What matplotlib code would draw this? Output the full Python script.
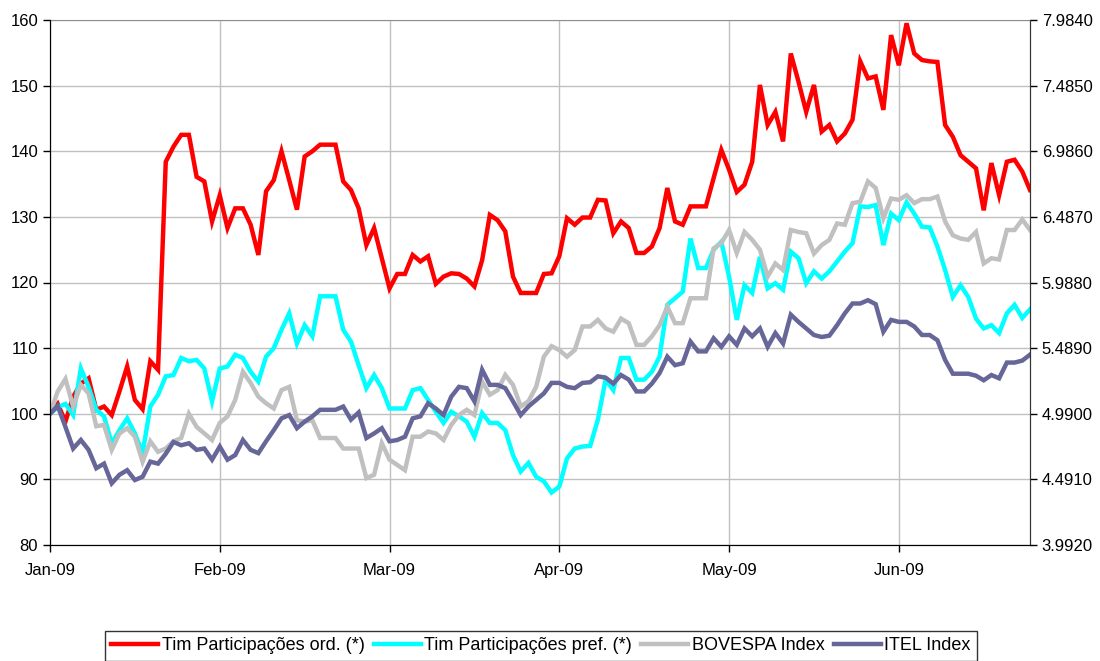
import numpy as np
import matplotlib
matplotlib.use("Agg")
import matplotlib.pyplot as plt

plt.rcParams['font.family'] = ['Liberation Sans', 'DejaVu Sans']

# month labels on the category axis (one tick every 22 trading days)
monthLabels = ['Jan-09', 'Feb-09', 'Mar-09', 'Apr-09', 'May-09', 'Jun-09']
rightLabels = ['3.9920', '4.4910', '4.9900', '5.4890', '5.9880',
               '6.4870', '6.9860', '7.4850', '7.9840']

timOrd = [100, 101.5, 98.8, 102.6, 104.6, 105.4, 100.6, 101.1, 99.8, 103.4, 107.2, 102.1, 100.7, 108, 106.7, 138.4, 140.7, 142.5, 142.5,
          136.1, 135.4, 129.3, 133.3, 128.3, 131.3, 131.3, 128.8, 124.2, 133.9, 135.6, 140, 135.6, 131.1, 139.2, 140, 141, 141,
          141, 135.4, 134.1, 131.3, 125.7, 128.3, 123.7, 119.1, 121.3, 121.3, 124.2, 123.2, 124, 119.8, 120.9, 121.4, 121.3, 120.6,
          119.4, 123.4, 130.3, 129.5, 127.8, 120.9, 118.4, 118.4, 118.4, 121.3, 121.4, 124, 129.8, 128.8, 129.9, 129.9, 132.6, 132.5,
          127.5, 129.3, 128.3, 124.5, 124.5, 125.5, 128.3, 134.4, 129.3, 128.8, 131.6, 131.6, 131.6, 135.9, 140.2, 137.2, 133.8, 134.9,
          138.4, 150.1, 144, 146, 141.5, 154.9, 150.6, 146, 150.1, 143, 144, 141.5, 142.7, 144.8, 153.7, 151.1, 151.4, 146.3, 157.7,
          153.1, 159.5, 154.9, 153.9, 153.7, 153.6, 144, 142.2, 139.4, 138.4, 137.4, 131, 138.2, 133.3, 138.4, 138.7, 136.9, 134.1]

timPref = [100, 101, 101.5, 99.8, 106.9, 104.1, 100.6, 99.6, 95.5, 97.5, 99.3, 97, 94, 101.1, 102.9, 105.7, 105.9, 108.5, 108,
           108.2, 106.9, 101.9, 106.9, 107.2, 109, 108.5, 106.4, 104.9, 108.7, 110, 112.8, 115.3, 110.7, 113.5, 111.8, 117.9, 117.9,
           117.9, 112.8, 111, 107.4, 103.9, 105.9, 103.9, 100.8, 100.8, 100.8, 103.6, 103.9, 102.1, 100.3, 98.6, 100.3, 99.6, 98.8,
           96.5, 100.1, 98.6, 98.6, 97.5, 93.7, 91.2, 92.5, 90.4, 89.7, 88, 88.9, 93.2, 94.7, 95, 95.1, 99.1, 105.2,
           103.6, 108.5, 108.5, 105.2, 105.2, 106.4, 108.7, 116.6, 117.6, 118.6, 126.7, 122.2, 122.2, 125, 126.2, 120.9, 114.3, 119.6,
           118.4, 123.9, 119.1, 119.9, 118.9, 124.7, 123.7, 119.9, 121.7, 120.6, 121.7, 123.2, 124.7, 126, 131.6, 131.5, 131.8, 125.7, 130.5,
           129.5, 132.2, 130.5, 128.5, 128.4, 125.5, 121.9, 117.8, 119.6, 117.8, 114.5, 113, 113.5, 112.3, 115.3, 116.6, 114.6, 115.9]

bovespa = [100, 103.4, 105.3, 101.1, 104.4, 103.1, 98.1, 98.3, 94.5, 97, 97.8, 96.5, 92.7, 95.8, 94.2, 94.7, 95.8, 96.3, 100,
           98, 97, 96, 98.6, 99.6, 102.1, 106.4, 104.7, 102.6, 101.6, 100.8, 103.6, 104.1, 99, 98.8, 99, 96.3, 96.3,
           96.3, 94.7, 94.7, 94.7, 90.2, 90.7, 95.5, 93, 92.2, 91.4, 96.5, 96.5, 97.3, 97, 96, 98.3, 99.8, 100.6,
           99.8, 104.9, 102.9, 103.6, 105.9, 104.4, 101.1, 101.9, 104.1, 108.7, 110.3, 109.7, 108.7, 109.7, 113.3, 113.3, 114.3, 113,
           112.5, 114.5, 113.8, 110.5, 110.5, 111.8, 113.5, 116.3, 113.8, 113.8, 117.6, 117.6, 117.6, 125.2, 126, 128, 124.5, 127.7,
           126.5, 125, 120.9, 122.9, 121.9, 128, 127.7, 127.5, 124.4, 125.7, 126.5, 129, 128.8, 132.1, 132.3, 135.4, 134.4, 129.8, 132.8,
           132.6, 133.3, 132.1, 132.7, 132.7, 133.1, 129.3, 127.2, 126.7, 126.5, 127.7, 122.9, 123.7, 123.5, 128, 128, 129.6, 128]

itel = [100, 101.2, 98, 94.7, 96, 94.5, 91.7, 92.4, 89.4, 90.7, 91.4, 89.9, 90.4, 92.7, 92.4, 93.9, 95.7, 95.2, 95.5,
        94.5, 94.7, 93, 95, 93, 93.7, 96, 94.5, 94, 95.8, 97.5, 99.3, 99.8, 97.8, 98.8, 99.6, 100.6, 100.6,
        100.6, 101.1, 99.1, 100.2, 96.3, 97, 97.8, 95.8, 96, 96.5, 99.3, 99.6, 101.6, 100.8, 99.8, 102.6, 104.1, 103.9,
        101.9, 106.7, 104.4, 104.4, 103.9, 101.9, 99.8, 101.1, 102.1, 103.1, 104.7, 104.7, 104.1, 103.9, 104.7, 104.8, 105.7, 105.5,
        104.6, 105.9, 105.2, 103.4, 103.4, 104.6, 106.2, 108.7, 107.4, 107.7, 111, 109.5, 109.5, 111.5, 110.2, 111.8, 110.5, 113,
        111.8, 113, 110.2, 112.3, 110.7, 115.1, 114, 113, 112, 111.7, 111.9, 113.5, 115.3, 116.8, 116.8, 117.3, 116.7, 112.5, 114.3,
        114, 114, 113.3, 112, 112, 111.2, 108.2, 106.1, 106.1, 106.1, 105.8, 105.1, 105.9, 105.4, 107.8, 107.8, 108.1, 109]

seriesNames = ['Tim Participações ord. (*)', 'Tim Participações pref. (*)', 'BOVESPA Index', 'ITEL Index']
seriesColors = ['#FF0000', '#00FFFF', '#C0C0C0', '#666699']

xIdx = np.arange(len(timOrd))
monthStep = 22

fig = plt.figure(figsize=(11, 6.61), dpi=100)
ax = fig.add_axes([50 / 1100, 1 - 545 / 661, 980 / 1100, 525 / 661])

for data, name, col in zip([timOrd, timPref, bovespa, itel], seriesNames, seriesColors):
    ax.plot(xIdx, data, color=col, linewidth=3.2, label=name, solid_joinstyle='miter')

ax.set_xlim(0, len(timOrd) - 1)
ax.set_ylim(80, 160)
ax.set_yticks(np.arange(80, 161, 10))
ax.set_xticks(np.arange(len(monthLabels)) * monthStep)
ax.set_xticklabels(monthLabels)
ax.grid(True, color='#C0C0C0', linewidth=1)
ax.set_axisbelow(True)
ax.tick_params(axis='both', direction='out', length=5, width=1, labelsize=12, colors='black')
ax.tick_params(axis='x', pad=8)
for s in ['left', 'bottom']:
    ax.spines[s].set_color('#333333')
ax.spines['top'].set_color('#909090')
ax.spines['right'].set_color('#333333')

ax2 = ax.twinx()
ax2.set_ylim(3.992, 7.984)
ax2.set_yticks(np.linspace(3.992, 7.984, len(rightLabels)))
ax2.set_yticklabels(rightLabels)
ax2.tick_params(axis='y', direction='out', length=5, width=1, labelsize=12)
ax2.spines['right'].set_color('#333333')
ax2.spines['top'].set_visible(False)

handles, labels = ax.get_legend_handles_labels()
leg = fig.legend(handles, labels, loc='center', bbox_to_anchor=(541 / 1100, 1 - 646 / 661),
                 ncol=4, fontsize=13, frameon=True, fancybox=False, edgecolor='black',
                 handlelength=2.6, handletextpad=0.2, columnspacing=0.5, borderpad=0.35)
leg.get_frame().set_linewidth(1)

fig.savefig('out.png', dpi=100)
